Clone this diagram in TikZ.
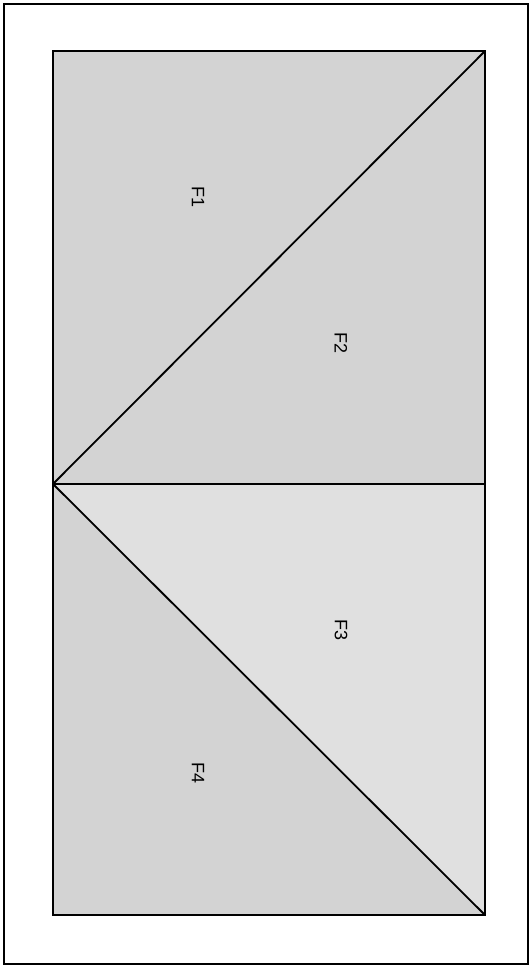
\documentclass[tikz,border=0pt]{standalone}
\usepackage{fontspec}
\setmainfont{Liberation Sans}
\definecolor{faceA}{HTML}{D3D3D3}
\definecolor{faceB}{HTML}{E0E0E0}
\begin{document}
\begin{tikzpicture}[x=1pt,y=-1pt,
  edge/.style={draw=black,line width=1.8pt,line join=miter},
  facelabel/.style={font=\fontsize{18}{18}\selectfont,rotate=-90,inner sep=0pt}]
\useasboundingbox (0,0) rectangle (531,968);
\draw[line width=2.2pt] (4,4) rectangle (528,964);
\coordinate (tl) at (53,51);
\coordinate (tr) at (485,51);
\coordinate (ml) at (53,484);
\coordinate (mr) at (485,484);
\coordinate (bl) at (53,915);
\coordinate (br) at (485,915);
\fill[faceA] (tl) -- (tr) -- (ml) -- cycle;
\fill[faceA] (tr) -- (mr) -- (ml) -- cycle;
\fill[faceB] (ml) -- (mr) -- (br) -- cycle;
\fill[faceA] (ml) -- (br) -- (bl) -- cycle;
\draw[edge] (tl) rectangle (br);
\draw[edge] (ml) -- (mr);
\draw[edge] (ml) -- (tr);
\draw[edge] (ml) -- (br);
\node[facelabel] (f1) at (198,197) {F1};
\node[facelabel] (f2) at (341,343) {F2};
\node[facelabel] (f3) at (341,630) {F3};
\node[facelabel] (f4) at (198,773) {F4};
\end{tikzpicture}
\end{document}
